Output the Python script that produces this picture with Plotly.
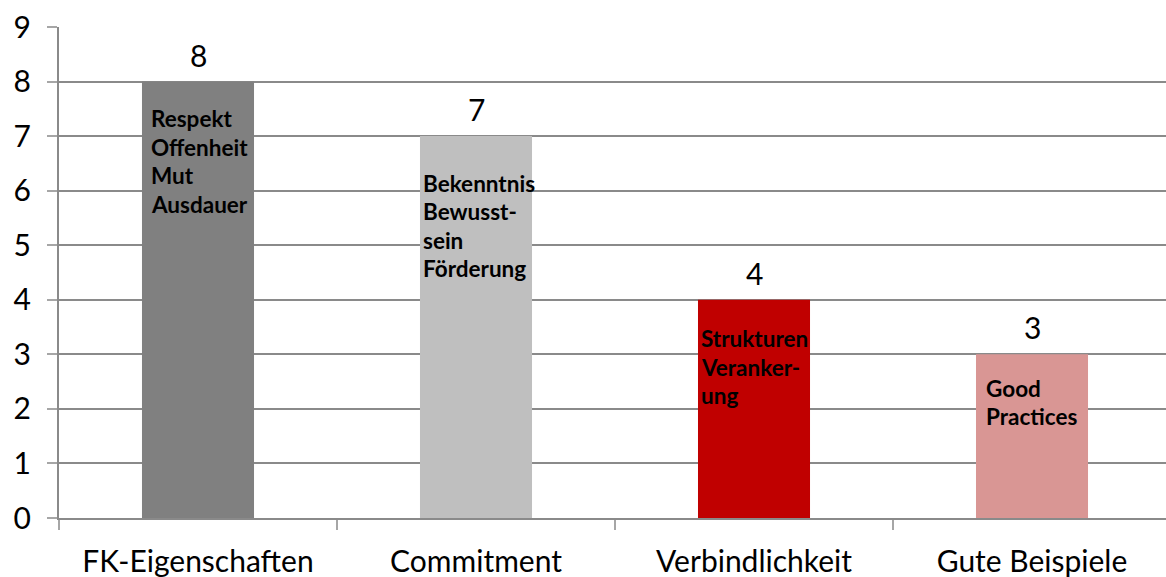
import plotly.graph_objects as go

categories = ["FK-Eigenschaften", "Commitment", "Verbindlichkeit", "Gute Beispiele"]
values = [8, 7, 4, 3]
colors = ["#808080", "#bfbfbf", "#c00000", "#d99694"]
inner_texts = [
    ["Respekt", "Offenheit", "Mut", "Ausdauer"],
    ["Bekenntnis", "Bewusst-", "sein", "Förderung"],
    ["Strukturen", "Veranker-", "ung"],
    ["Good", "Practices"],
]
y_ticks = list(range(0, 10))

FONT = "Lato"
text_drop = [37, 47, 39, 34]  # px below bar top for the first inner line
text_pad = [7, 1, 1, 8]       # px from bar left edge

fig = go.Figure()
fig.add_trace(go.Bar(
    x=categories, y=values, marker=dict(color=colors, line=dict(width=0)),
    width=0.403, hoverinfo="skip",
))

annotations = []
for cat, v, lines, drop, pad in zip(categories, values, inner_texts, text_drop, text_pad):
    annotations.append(dict(
        x=cat, y=v, xref="x", yref="y", text=str(v), showarrow=False,
        yshift=27, font=dict(family=FONT, size=30, color="#000000"),
    ))
    for i, line in enumerate(lines):
        annotations.append(dict(
            x=cat, y=v, xref="x", yref="y", text="<b>%s</b>" % line,
            showarrow=False, xanchor="left", yanchor="middle",
            xshift=-56 + pad, yshift=-(drop + 28.5 * i),
            font=dict(family=FONT, size=22.5, color="#000000"),
        ))

fig.update_layout(
    width=1166, height=577,
    margin=dict(l=59, r=0, t=27, b=59, autoexpand=False),
    paper_bgcolor="white", plot_bgcolor="white",
    showlegend=False,
    annotations=annotations,
    xaxis=dict(
        type="category", tickson="boundaries", ticks="outside", ticklen=10,
        tickcolor="#a6a6a6", tickwidth=1.5, showline=True, linecolor="#8a8a8a", linewidth=2,
        showgrid=False, tickfont=dict(family=FONT, size=30, color="#000000"),
        ticklabelstandoff=16, range=[-0.5, 3.482], automargin=False,
    ),
    yaxis=dict(
        range=[0, 9], tickvals=y_ticks, ticks="outside", ticklen=10,
        tickcolor="#a6a6a6", tickwidth=1.5, showline=True, linecolor="#8a8a8a", linewidth=2,
        showgrid=True, gridcolor="#8a8a8a", gridwidth=2, zeroline=False,
        tickfont=dict(family=FONT, size=30, color="#000000"),
        ticklabelstandoff=10, automargin=False,
    ),
)

fig.write_html(
    "out.html",
    config={"displayModeBar": False},
    post_script="document.body.style.margin='0px';document.body.style.overflow='hidden';",
)
